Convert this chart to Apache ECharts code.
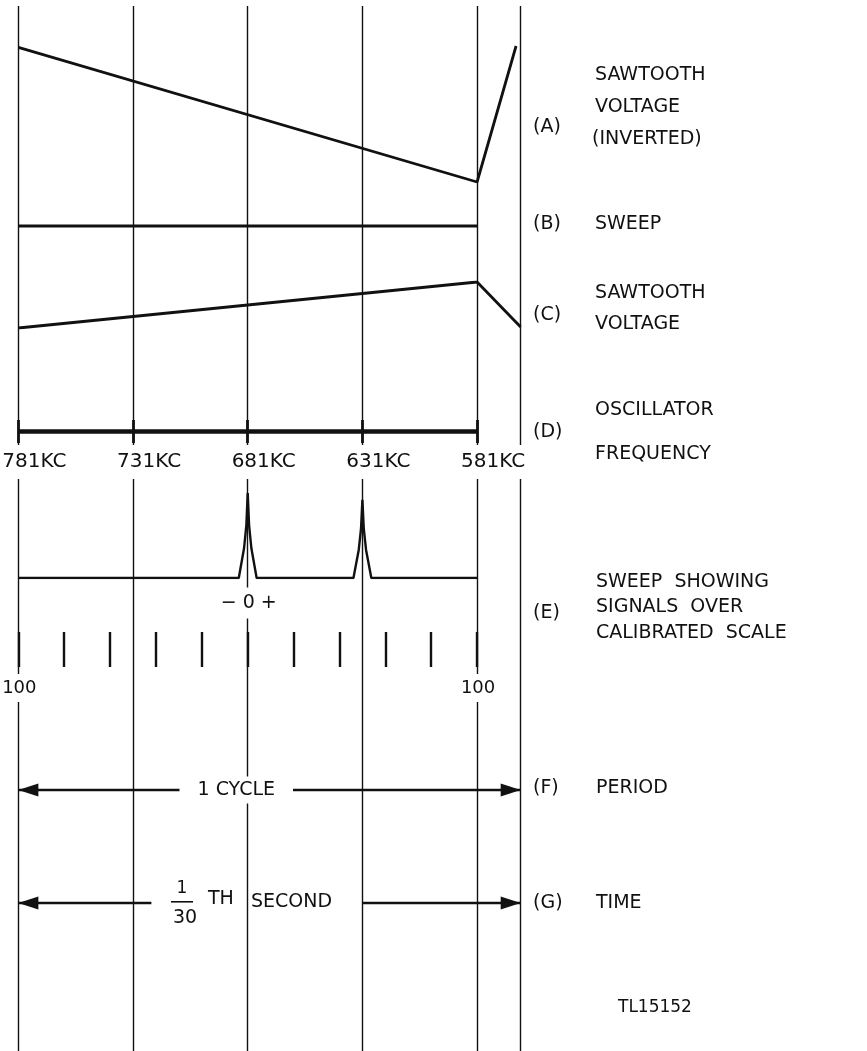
<!DOCTYPE html>
<html>
<head>
<meta charset="utf-8">
<title>Sweep timing</title>
<script src="https://cdn.jsdelivr.net/npm/echarts@6/dist/echarts.min.js"></script>
<style>
  html, body { margin: 0; padding: 0; background: #fff; }
  #chart { width: 867px; height: 1051px; }
</style>
</head>
<body>
<div id="chart"></div>
<script>
// oscillator frequency marks (KC)
const freqTicks = [781, 731, 681, 631, 581]
// vertical guide lines, last one is end of retrace
const guideFreqs = [781, 731, 681, 631, 581, 562]

// (A) sawtooth voltage, inverted
const sawInvFreq = [781, 581, 564]
const sawInvVal = [0.99, 0, 1]
// (B) sweep
const sweepFreq = [781, 581]
const sweepVal = [0.5, 0.5]
// (C) sawtooth voltage
const sawFreq = [781, 581, 562]
const sawVal = [0, 1, 0.02]
// (D) oscillator frequency bar
const oscFreq = [781, 581]
const oscVal = [0.5, 0.5]
// (E) sweep with two signals
const pulseFreq = [781, 684.9, 682.6, 681.6, 681, 680.4, 679.4, 677.1, 634.9, 632.6, 631.6, 631, 630.4, 629.4, 627.1, 581]
const pulseVal = [0, 0, 0.35, 0.62, 1, 0.62, 0.35, 0, 0, 0.33, 0.58, 0.92, 0.58, 0.33, 0, 0]
// calibrated scale
const scaleFreq = [781, 761, 741, 721, 701, 681, 661, 641, 621, 601, 581]
const scaleLabelFreq = [781, 581]
const scaleLabelText = ['100', '100']
// (F) period and (G) time arrows
const periodFreq = [781, 562]
const timeLeftFreq = [781, 723]
const timeRightFreq = [631, 562]

const FONT = 'DejaVu Sans'
const INK = '#111'
// solid arrow head, tip sits on the line end
const HEAD = 'path://M0,0 M40,0 M20,20 L26.5,40 L13.5,40 Z'

// one strip per row, all sharing the same frequency scale
const strips = [
  {top: 6, height: 1045},  // guides
  {top: 46, height: 136},  // A
  {top: 216, height: 20},  // B
  {top: 282, height: 46},  // C
  {top: 420, height: 23},  // D
  {top: 493, height: 85},  // E
  {top: 632, height: 35},  // scale
  {top: 780, height: 20},  // F
  {top: 893, height: 20}   // G
]

const zip = (xs, ys) => xs.map((x, i) => [x, ys[i]])
const segs = (fs) => fs.map(f => ({coords: [[f, 0], [f, 1]]}))

const trace = (idx, xs, ys, width) => ({
  type: 'line',
  xAxisIndex: idx,
  yAxisIndex: idx,
  data: zip(xs, ys),
  symbol: 'none',
  silent: true,
  lineStyle: {color: INK, width: width}
})

const ticks = (idx, fs, width) => ({
  type: 'lines',
  coordinateSystem: 'cartesian2d',
  xAxisIndex: idx,
  yAxisIndex: idx,
  data: segs(fs),
  silent: true,
  lineStyle: {color: INK, width: width, opacity: 1}
})

const textMark = (idx, points, formatter, offset, pad, size) => ({
  type: 'scatter',
  xAxisIndex: idx,
  yAxisIndex: idx,
  data: points,
  symbolSize: 1,
  z: 10,
  silent: true,
  clip: false,
  itemStyle: {color: 'rgba(0,0,0,0)', opacity: 1},
  label: {
    show: true,
    position: 'inside',
    offset: offset,
    formatter: formatter,
    color: INK,
    opacity: 1,
    fontFamily: FONT,
    fontSize: size || 19,
    backgroundColor: '#fff',
    padding: pad
  }
})

const arrow = (idx, xs, symbols) => ({
  type: 'lines',
  coordinateSystem: 'cartesian2d',
  xAxisIndex: idx,
  yAxisIndex: idx,
  data: [{coords: [[xs[0], 0.5], [xs[1], 0.5]]}],
  symbol: symbols,
  symbolSize: 40,
  silent: true,
  lineStyle: {color: INK, width: 2.4, opacity: 1},
  itemStyle: {color: INK}
})

// right hand captions
const captions = [
  {x: 533, y: 127, t: '(A)'},
  {x: 595, y: 75, t: 'SAWTOOTH'},
  {x: 595, y: 107, t: 'VOLTAGE'},
  {x: 592, y: 139, t: '(INVERTED)'},
  {x: 533, y: 224, t: '(B)'},
  {x: 595, y: 224, t: 'SWEEP'},
  {x: 533, y: 315, t: '(C)'},
  {x: 595, y: 293, t: 'SAWTOOTH'},
  {x: 595, y: 324, t: 'VOLTAGE'},
  {x: 533, y: 432, t: '(D)'},
  {x: 595, y: 410, t: 'OSCILLATOR'},
  {x: 595, y: 454, t: 'FREQUENCY'},
  {x: 533, y: 613, t: '(E)'},
  {x: 596, y: 582, t: 'SWEEP  SHOWING'},
  {x: 596, y: 607, t: 'SIGNALS  OVER'},
  {x: 596, y: 633, t: 'CALIBRATED  SCALE'},
  {x: 533, y: 788, t: '(F)'},
  {x: 596, y: 788, t: 'PERIOD'},
  {x: 533, y: 903, t: '(G)'},
  {x: 596, y: 903, t: 'TIME'}
]

const txt = (x, y, t, size, align) => ({
  type: 'text',
  x: x,
  y: y,
  silent: true,
  style: {
    text: t,
    fill: INK,
    font: (size || 19) + 'px "' + FONT + '"',
    textAlign: align || 'left',
    textVerticalAlign: 'middle'
  }
})

const chart = echarts.init(document.getElementById('chart'))

chart.setOption({
  animation: false,
  backgroundColor: '#fff',
  grid: strips.map(s => ({left: 0, right: 0, top: s.top, height: s.height})),
  xAxis: strips.map((s, i) => ({
    type: 'value', gridIndex: i, min: 411, max: 789, inverse: true, show: false
  })),
  yAxis: strips.map((s, i) => ({
    type: 'value', gridIndex: i, min: 0, max: 1, show: false
  })),
  graphic: [
    ...captions.map(c => txt(c.x, c.y, c.t, 19)),
    // 1/30 fraction and rest of the time caption
    txt(182, 889, '1', 17, 'center'),
    {type: 'rect', silent: true, shape: {x: 171, y: 901, width: 22, height: 1.6}, style: {fill: INK}},
    txt(185, 918, '30', 19, 'center'),
    txt(208, 899, 'TH', 19),
    txt(251, 902, 'SECOND', 19),
    txt(618, 1008, 'TL15152', 17)
  ],
  series: [
    ticks(0, guideFreqs, 1.4),
    trace(1, sawInvFreq, sawInvVal, 2.8),
    trace(2, sweepFreq, sweepVal, 2.8),
    trace(3, sawFreq, sawVal, 2.8),
    trace(4, oscFreq, oscVal, 4.5),
    ticks(4, freqTicks, 2.8),
    textMark(4, freqTicks.map(f => [f, 0]), p => p.value[0] + 'KC', [16, 19], [7, 2], 20),
    trace(5, pulseFreq, pulseVal, 2.4),
    textMark(5, [[681, 0]], '− 0 +', [1, 25], [6, 3], 19),
    ticks(6, scaleFreq, 2.4),
    textMark(6, zip(scaleLabelFreq, [0, 0]), p => scaleLabelText[p.dataIndex], [1, 21], [5, 3], 18),
    arrow(7, periodFreq, [HEAD, HEAD]),
    textMark(7, [[686, 0.5]], '1 CYCLE', [0, 0], [4, 18], 19),
    arrow(8, timeLeftFreq, [HEAD, 'none']),
    arrow(8, timeRightFreq, ['none', HEAD])
  ]
})
</script>
</body>
</html>
